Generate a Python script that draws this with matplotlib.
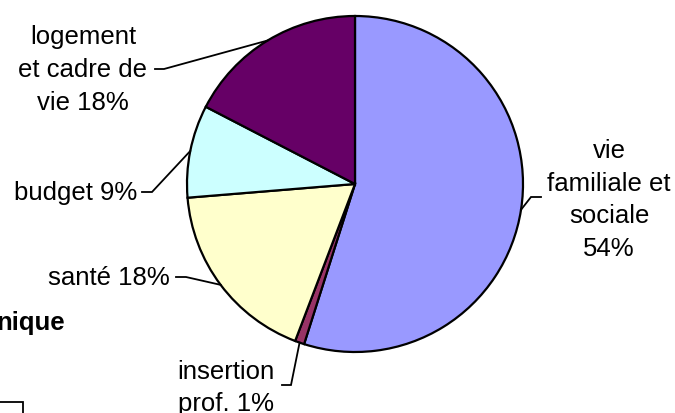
import numpy as np
import matplotlib
matplotlib.use("Agg")
import matplotlib.pyplot as plt
from matplotlib.patches import Rectangle

# ---- data ----
categories = ["vie familiale et sociale", "insertion prof.", "santé", "budget", "logement et cadre de vie"]
values = [54.9, 0.9, 17.9, 8.9, 17.4]
labels = ["vie\nfamiliale et\nsociale\n54%", "insertion\nprof. 1%", "santé 18%", "budget 9%",
          "logement\net cadre de\nvie 18%"]
colors = ["#9999FF", "#993366", "#FFFFCC", "#CCFFFF", "#660066"]

W, H = 675, 414
fig = plt.figure(figsize=(W / 100, H / 100), dpi=100)
ax = fig.add_axes([0, 0, 1, 1])

def Y(y):
    return H - y

cx, cy, r = 355, 185, 168
wedges, _ = ax.pie(values, colors=colors, startangle=90, counterclock=False,
                   center=(cx, Y(cy)), radius=r,
                   wedgeprops=dict(edgecolor="black", linewidth=1.6))
ax.set_xlim(0, W)
ax.set_ylim(0, H)
ax.set_aspect("equal")
ax.axis("off")

font = dict(family=["Liberation Sans", "DejaVu Sans"], fontsize=18.5, color="black")

# label layout: (text x, text y, ha, start of leader, elbow)
layout = [
    (609, 200, "center", (541, 198), (531, 198)),
    (226, 388, "center", (282, 386), (291, 386)),
    (170, 278, "right", (176, 278), (186, 278)),
    (137, 193, "right", (142, 193), (152, 193)),
    (83, 70, "center", (155, 70), (164, 70)),
]

for w, lab, (tx, ty, ha, p0, p1) in zip(wedges, labels, layout):
    mid = np.deg2rad((w.theta1 + w.theta2) / 2)
    ex = cx + r * np.cos(mid)
    ey = Y(cy) + r * np.sin(mid)
    ax.plot([p0[0], p1[0], ex], [Y(p0[1]), Y(p1[1]), ey], color="black", lw=1.3,
            solid_joinstyle="miter")
    ax.text(tx, Y(ty), lab, ha=ha, va="center", multialignment="center",
            linespacing=1.45, **font)

# partially visible elements at left
ax.text(65, Y(323), "nique", ha="right", va="center", fontweight="bold",
        family=["Liberation Sans", "DejaVu Sans"], fontsize=18.5)
ax.add_patch(Rectangle((-100, Y(403) - 100), 123, 100, fill=False, edgecolor="black", lw=1.3))

fig.savefig("out.png", dpi=100)
